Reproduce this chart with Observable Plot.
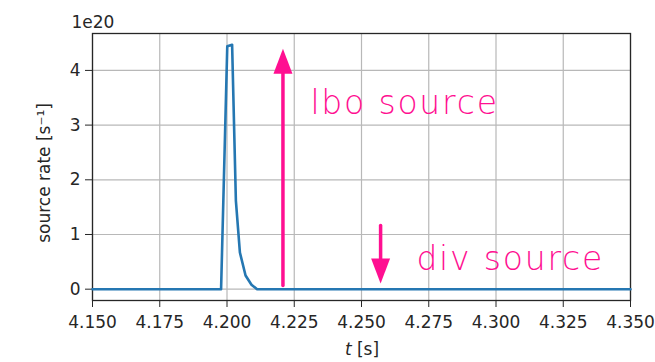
<!DOCTYPE html>
<html>
<head>
<meta charset="utf-8">
<script src="https://cdn.jsdelivr.net/npm/d3@7"></script>
<script src="https://cdn.jsdelivr.net/npm/@observablehq/plot@0.6"></script>
<style>
  html, body { margin: 0; padding: 0; background: #fff; }
  #chart { width: 655px; height: 362px; }
  .anno text { letter-spacing: 1.8px; }
</style>
</head>
<body>
<div id="chart"></div>
<script>
// ---- data (source rate in units of 1e20 s^-1) ----
const times = [4.150, 4.1978, 4.2001, 4.2019, 4.2033, 4.2048, 4.2069, 4.2091, 4.2112, 4.350];
const rates = [0, 0, 4.44, 4.47, 1.62, 0.67, 0.25, 0.08, 0, 0];
const xTicks = [4.150, 4.175, 4.200, 4.225, 4.250, 4.275, 4.300, 4.325, 4.350];
const yTicks = [0, 1, 2, 3, 4];
const annoLabels = ["lbo source", "div source"];
const annoX = [4.2310, 4.2704];
const annoY = [3.40, 0.55];
const arrowX = [4.2208, 4.2571];
const arrowFrom = [0.068, 1.165];
const arrowTo = [4.395, 0.104];

const series = times.map((t, i) => ({t, v: rates[i]}));
const annos = annoLabels.map((s, i) => ({s, x: annoX[i], y: annoY[i]}));
const arrows = arrowX.map((x, i) => ({x, y1: arrowFrom[i], y2: arrowTo[i]}));

const MAGENTA = "#ff0f91";
const headSymbol = {
  draw(ctx) {
    ctx.moveTo(0, 0);
    ctx.lineTo(9.5, 25);
    ctx.lineTo(-9.5, 25);
    ctx.closePath();
  }
};

const plot = Plot.plot({
  width: 655,
  height: 362,
  marginLeft: 92,
  marginRight: 25,
  marginTop: 33,
  marginBottom: 62,
  style: {fontFamily: "DejaVu Sans", fontSize: "17px", color: "#262626", background: "#fff"},
  x: {domain: [4.15, 4.35]},
  y: {domain: [-0.207, 4.675]},
  marks: [
    Plot.gridX(xTicks, {stroke: "#b8b8b8", strokeOpacity: 1, strokeWidth: 1.2}),
    Plot.gridY(yTicks, {stroke: "#b8b8b8", strokeOpacity: 1, strokeWidth: 1.2}),
    Plot.axisX({ticks: xTicks, tickFormat: d3.format(".3f"), tickSize: 7, tickPadding: 8, label: null, stroke: "#262626"}),
    Plot.axisY({ticks: yTicks, tickFormat: d3.format("d"), tickSize: 7, tickPadding: 5, label: null, stroke: "#262626"}),
    Plot.frame({stroke: "#262626", strokeWidth: 1.3}),
    Plot.line(series, {x: "t", y: "v", stroke: "#2577b2", strokeWidth: 2.6}),
    Plot.arrow(arrows, {x1: "x", y1: "y1", x2: "x", y2: "y2", stroke: MAGENTA, strokeWidth: 3.5, headLength: 0, insetEnd: 20}),
    Plot.dot(arrows, {x: "x", y: "y2", symbol: headSymbol, fill: MAGENTA, stroke: "none", rotate: d => d.y2 > d.y1 ? 0 : 180}),
    Plot.text(annos, {x: "x", y: "y", text: "s", fill: MAGENTA, fontSize: 33, fontWeight: 300, textAnchor: "start", fontFamily: "DejaVu Sans", className: "anno"})
  ]
});

const svg = d3.select(plot);
svg.append("text")
  .attr("x", 93).attr("y", 28)
  .attr("fill", "#262626").attr("font-size", 17)
  .text("1e20");
svg.append("text")
  .attr("transform", "translate(50,173) rotate(-90)")
  .attr("text-anchor", "middle")
  .attr("fill", "#262626").attr("font-size", 17)
  .text("source rate [s⁻¹]");
const xl = svg.append("text")
  .attr("x", 362).attr("y", 355)
  .attr("text-anchor", "middle")
  .attr("fill", "#262626").attr("font-size", 17);
xl.append("tspan").attr("font-style", "italic").text("t");
xl.append("tspan").text(" [s]");

document.getElementById("chart").appendChild(plot);
</script>
</body>
</html>
